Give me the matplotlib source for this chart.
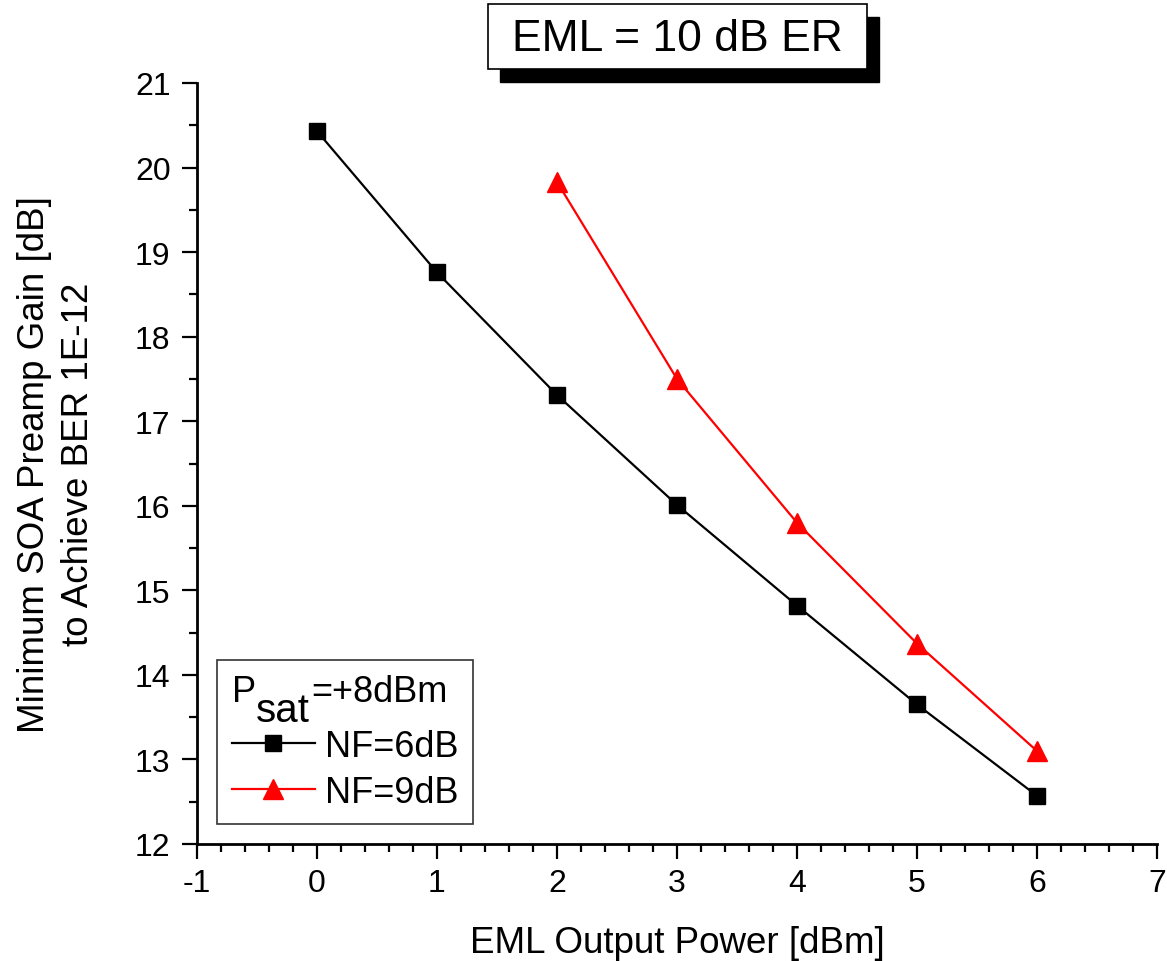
import numpy as np
import matplotlib
matplotlib.use("Agg")
import matplotlib.pyplot as plt
from matplotlib.patches import Rectangle
from matplotlib.text import Text
from matplotlib.offsetbox import TextArea, HPacker, DrawingArea
from matplotlib.ticker import MultipleLocator

plt.rcParams['font.family'] = ['Liberation Sans', 'DejaVu Sans']
plt.rcParams['axes.unicode_minus'] = False

## data
eml_power_nf6 = [0, 1, 2, 3, 4, 5, 6]
gain_nf6 = [20.43, 18.76, 17.31, 16.01, 14.82, 13.65, 12.57]
eml_power_nf9 = [2, 3, 4, 5, 6]
gain_nf9 = [19.83, 17.50, 15.80, 14.37, 13.10]
series_labels = ['NF=6dB', 'NF=9dB']
legend_title = ['P', 'sat', '=+8dBm']
title_text = 'EML = 10 dB ER'

W, H = 1167, 962
fig = plt.figure(figsize=(W / 100, H / 100), dpi=100)
ax = fig.add_axes([197 / W, 1 - 845 / H, 960 / W, 761 / H])

ax.plot(eml_power_nf6, gain_nf6, color='black', lw=1.6, marker='s', ms=12,
        label=series_labels[0])
ax.plot(eml_power_nf9, gain_nf9, color='red', lw=1.6, marker='^', ms=15,
        label=series_labels[1])

ax.set_xlim(-1, 7)
ax.set_ylim(12, 21)
ax.xaxis.set_major_locator(MultipleLocator(1))
ax.xaxis.set_minor_locator(MultipleLocator(0.2))
ax.yaxis.set_major_locator(MultipleLocator(1))
ax.yaxis.set_minor_locator(MultipleLocator(0.5))

for side in ['top', 'right']:
    ax.spines[side].set_visible(False)
for side in ['left', 'bottom']:
    ax.spines[side].set_linewidth(2)
ax.tick_params(which='major', direction='out', length=11, width=1.6, labelsize=23)
ax.tick_params(axis='y', which='major', pad=8)
ax.tick_params(axis='x', which='major', pad=6)
ax.tick_params(which='minor', direction='out', length=5.5, width=1.6)

ax.set_xlabel('EML Output Power [dBm]', fontsize=26.5, labelpad=20)
ax.set_ylabel('Minimum SOA Preamp Gain [dB]\nto Achieve BER 1E-12', fontsize=26.5,
              labelpad=28, linespacing=1.35)

## legend, title row has an oversized lowered subscript like the original
fs = 26
leg = ax.legend(title=' ', loc='lower left', bbox_to_anchor=(0.021, 0.026),
                borderaxespad=0, fontsize=fs, title_fontsize=fs, frameon=True,
                fancybox=False, edgecolor='black', handlelength=2.3,
                handletextpad=0.3, borderpad=0.4, labelspacing=0.3,
                alignment='left')
leg.get_frame().set_linewidth(1.2)

sub = DrawingArea(40, 26, 0, 12)
sub.add_artist(Text(0, -14, legend_title[1], fontsize=29))
title_row = HPacker(children=[TextArea(legend_title[0], textprops=dict(fontsize=fs)),
                              sub,
                              TextArea(legend_title[2], textprops=dict(fontsize=fs))],
                    pad=0, sep=0, align='baseline')
title_row.set_figure(fig)
leg._legend_box._children[0] = title_row
leg._legend_title_box = title_row

## boxed title with drop shadow
bx, by, bw, bh = 488, 5, 379, 65
fig.patches.append(Rectangle(((bx + 12) / W, 1 - (by + bh + 13) / H), bw / W, bh / H,
                             transform=fig.transFigure, facecolor='black',
                             edgecolor='black', zorder=1))
fig.patches.append(Rectangle((bx / W, 1 - (by + bh) / H), bw / W, bh / H,
                             transform=fig.transFigure, facecolor='white',
                             edgecolor='black', linewidth=1.2, zorder=2))
fig.text((bx + bw / 2) / W, 1 - (by + bh / 2 + 2) / H, title_text, fontsize=32,
         ha='center', va='center', zorder=3)

fig.savefig('out.png', dpi=100)
